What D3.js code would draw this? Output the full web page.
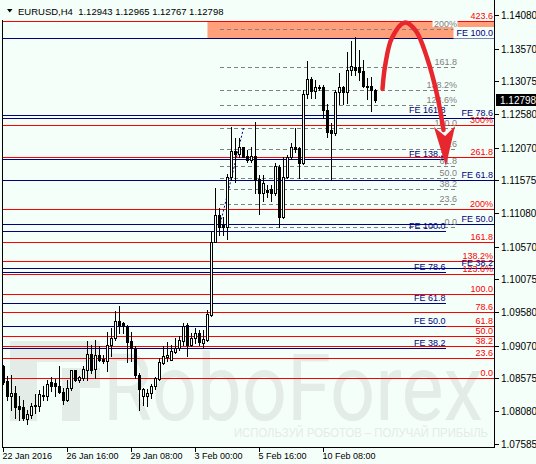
<!DOCTYPE html>
<html>
<head>
<meta charset="utf-8">
<script src="https://cdn.jsdelivr.net/npm/d3@7"></script>
<style>
  body { margin: 0; background: #f5fffa; }
  svg { display: block; font-family: "Liberation Sans", Arial, sans-serif; }
</style>
</head>
<body>
<svg id="svg-chart" width="536" height="464"></svg>
<script>
const BG = "#f5fffa";
const RED = "#ff0000";
const NAVY = "#000080";
const GREY = "#808080";
const SALMON = "#ffa07a";
const ARROW = "#e8262e";
const WATERMARK = "#e3ece7";

// EURUSD H4 bars, 22 Jan 2016 -> 12 Feb 2016
const opens = [1.08755, 1.08528, 1.08301, 1.08353, 1.08150, 1.08145, 1.07963, 1.08024, 1.08171, 1.08150,
  1.08312, 1.08301, 1.08513, 1.08504, 1.08463, 1.08368, 1.08251, 1.08428, 1.08695, 1.08554,
  1.08580, 1.08705, 1.08948, 1.08720, 1.08922, 1.08872, 1.08831, 1.09084, 1.09185, 1.09447,
  1.09412, 1.09372, 1.09134, 1.09034, 1.08630, 1.08301, 1.08301, 1.08353, 1.08453, 1.08564,
  1.08807, 1.08892, 1.08857, 1.08973, 1.09034, 1.09134, 1.09387, 1.09084, 1.09185, 1.09261,
  1.09109, 1.09159, 1.09538, 1.10648, 1.11052, 1.10901, 1.10875, 1.11623, 1.12021, 1.11971,
  1.12077, 1.11945, 1.11885, 1.11945, 1.11593, 1.11381, 1.11431, 1.11441, 1.11381, 1.11783,
  1.11026, 1.11632, 1.11926, 1.12077, 1.12062, 1.11844, 1.12879, 1.13107, 1.12929, 1.12995,
  1.12995, 1.12642, 1.12339, 1.12289, 1.12910, 1.12995, 1.12919, 1.13247, 1.13297, 1.13297,
  1.13232, 1.13010, 1.13005, 1.12943];
const highs = [1.08781, 1.08615, 1.08630, 1.08463, 1.08301, 1.08251, 1.08100, 1.08206, 1.08342, 1.08403,
  1.08453, 1.08554, 1.08599, 1.08569, 1.08755, 1.08433, 1.08554, 1.08705, 1.08705, 1.08615,
  1.08755, 1.09134, 1.09084, 1.09159, 1.09058, 1.08932, 1.09270, 1.09337, 1.09588, 1.09674,
  1.09428, 1.09387, 1.09270, 1.09058, 1.08655, 1.08428, 1.08418, 1.08493, 1.08595, 1.08882,
  1.09069, 1.09119, 1.09084, 1.09185, 1.09210, 1.09412, 1.09412, 1.09261, 1.09337, 1.09311,
  1.09311, 1.09614, 1.10799, 1.11456, 1.11153, 1.11026, 1.11673, 1.12389, 1.12213, 1.12213,
  1.12086, 1.12036, 1.12086, 1.12465, 1.11658, 1.11658, 1.11506, 1.11506, 1.11835, 1.11809,
  1.11935, 1.11960, 1.12138, 1.12365, 1.12086, 1.12945, 1.13384, 1.13146, 1.13096, 1.13020,
  1.13020, 1.12728, 1.12440, 1.12945, 1.13206, 1.13010, 1.13524, 1.13686, 1.13752, 1.13550,
  1.13399, 1.13122, 1.13146, 1.12965];
const lows = [1.08493, 1.08251, 1.08100, 1.07979, 1.07948, 1.07948, 1.07888, 1.07979, 1.08054, 1.08074,
  1.08251, 1.08251, 1.08377, 1.08301, 1.08353, 1.08191, 1.08225, 1.08403, 1.08528, 1.08513,
  1.08554, 1.08554, 1.08655, 1.08580, 1.08831, 1.08807, 1.08680, 1.08907, 1.09159, 1.09266,
  1.09266, 1.08816, 1.08831, 1.08580, 1.08100, 1.08175, 1.08150, 1.08277, 1.08413, 1.08543,
  1.08796, 1.08831, 1.08846, 1.08958, 1.09008, 1.09084, 1.08907, 1.09058, 1.09110, 1.09084,
  1.09034, 1.09134, 1.09523, 1.10648, 1.10749, 1.10749, 1.10684, 1.11582, 1.11556, 1.11935,
  1.11926, 1.11850, 1.11859, 1.11390, 1.11067, 1.11269, 1.11329, 1.11269, 1.11355, 1.10866,
  1.11002, 1.11608, 1.11900, 1.12010, 1.11608, 1.11824, 1.12828, 1.12828, 1.12828, 1.12945,
  1.12516, 1.12238, 1.11582, 1.12263, 1.12728, 1.12728, 1.12743, 1.13172, 1.13172, 1.13096,
  1.12995, 1.12808, 1.12631, 1.12767];
const closes = [1.08513, 1.08301, 1.08353, 1.08135, 1.08115, 1.07979, 1.08029, 1.08160, 1.08150, 1.08337,
  1.08316, 1.08493, 1.08463, 1.08453, 1.08368, 1.08251, 1.08428, 1.08695, 1.08554, 1.08595,
  1.08720, 1.08943, 1.08695, 1.08932, 1.08857, 1.08831, 1.09084, 1.09185, 1.09437, 1.09387,
  1.09372, 1.09119, 1.09034, 1.08630, 1.08413, 1.08413, 1.08353, 1.08463, 1.08580, 1.08816,
  1.08907, 1.08932, 1.08982, 1.09034, 1.09159, 1.09372, 1.09084, 1.09185, 1.09261, 1.09119,
  1.09170, 1.09553, 1.10648, 1.11052, 1.10866, 1.10866, 1.11623, 1.12021, 1.11971, 1.12077,
  1.11935, 1.11885, 1.11945, 1.11582, 1.11381, 1.11532, 1.11405, 1.11381, 1.11794, 1.11026,
  1.11632, 1.11935, 1.12077, 1.12051, 1.11844, 1.12884, 1.13107, 1.12929, 1.12995, 1.12970,
  1.12642, 1.12313, 1.12289, 1.12910, 1.12995, 1.12919, 1.13247, 1.13308, 1.13247, 1.13222,
  1.13010, 1.12995, 1.12939, 1.12798];

const dateTickBars = [0, 16, 32, 48, 64, 80];
const dateLabels = ["22 Jan 2016", "26 Jan 16:00", "29 Jan 08:00", "3 Feb 00:00", "5 Feb 16:00", "10 Feb 08:00"];
const priceTicks = [1.14080, 1.13570, 1.13075, 1.12580, 1.12070, 1.11575, 1.11080,
  1.10570, 1.10075, 1.09580, 1.09070, 1.08575, 1.08080, 1.07585];

// fibonacci tools: [price at 0, price at 100]
const redFibAnchor = [1.08580, 1.09858];
const redFibLevels = [0, 23.6, 38.2, 50, 61.8, 78.6, 100, 123.6, 138.2, 161.8, 200, 261.8, 300, 423.6];
const redFibLabels = ["0.0", "23.6", "38.2", "50.0", "61.8", "78.6", "100.0", "123.6%", "138.2%", "161.8", "200%", "261.8", "300%", "423.6"];

const feLongAnchor = [1.08089, 1.13732];
const feLongLevels = [38.2, 50, 61.8, 78.6, 100];

const feShortAnchor = [1.07948, 1.10802];
const feShortLevels = [38.2, 50, 61.8, 78.6, 100, 138.2, 161.8];

const greyFibAnchor = [1.10866, 1.12365];
const greyFibBars = [54, 60, 113.4]; // start, diagonal end, right end
const greyFibLevels = [0, 23.6, 38.2, 50, 61.8, 78.6, 100, 123.6, 138.2, 161.8, 200];
const greyFibLabels = ["0.0", "23.6", "38.2", "50.0", "61.8", "78.6", "100.0", "123.6%", "138.2%", "161.8", "200%"];

// target zone: from bar, top price, bottom price
const zone = [51, 1.13990, 1.13732];

// forecast arrow in [bar, price]
const arrowCurve = [[94.75, 1.12960], [95.4, 1.13308], [97.1, 1.13732], [100.4, 1.13966],
  [103.1, 1.13838], [105.9, 1.13429], [108.4, 1.12869], [110, 1.12339]];
const arrowHead = [[107.6, 1.12384], [110.6, 1.11794], [112.9, 1.12399], [110.4, 1.12248]];

var svg = d3.select("#svg-chart"),
  frame = { left: 3, right: 494, top: 20, bottom: 447 };

var x = d3.scaleLinear().domain([0, 93]).range([3.5, 375.5]);
var y = d3.scaleLinear().domain([1.07585, 1.14080]).range([443.7, 15]);

function py(p) {
  return Math.round(y(p)) + 0.5;
}
function fibPrice(anchor, lvl) {
  return anchor[0] + (anchor[1] - anchor[0]) * lvl / 100;
}

svg.append("rect").attr("width", 536).attr("height", 464).attr("fill", BG);

// watermark
var wm = svg.append("g").attr("fill", WATERMARK);
wm.append("path").attr("d", "M10,341H100V362H37V421H10Z");
wm.append("path").attr("d", "M62,368H100V388H80V421H62Z");
wm.append("text")
  .attr("x", 103).attr("y", 420)
  .attr("font-family", "Roboto, sans-serif")
  .attr("font-size", 92)
  .attr("textLength", 380)
  .attr("lengthAdjust", "spacingAndGlyphs")
  .text("RoboForex");
wm.append("text")
  .attr("x", 234).attr("y", 437)
  .attr("font-size", 12)
  .attr("textLength", 254)
  .attr("lengthAdjust", "spacingAndGlyphs")
  .text("ИСПОЛЬЗУЙ РОБОТОВ – ПОЛУЧАЙ ПРИБЫЛЬ");

svg.append("clipPath").attr("id", "plot-clip")
  .append("rect")
  .attr("x", frame.left).attr("y", 0)
  .attr("width", frame.right - frame.left).attr("height", frame.bottom);

var g = svg.append("g").attr("clip-path", "url(#plot-clip)");

// salmon target zone
g.append("rect")
  .attr("x", x(zone[0]))
  .attr("y", py(zone[1]))
  .attr("width", frame.right - x(zone[0]))
  .attr("height", py(zone[2]) - py(zone[1]))
  .attr("fill", SALMON);

var lines = g.append("g").attr("shape-rendering", "crispEdges");

// red retracement, full width
lines.selectAll(".red")
  .data(redFibLevels)
  .enter()
  .append("line")
  .attr("x1", frame.left).attr("x2", frame.right)
  .attr("y1", d => py(fibPrice(redFibAnchor, d)))
  .attr("y2", d => py(fibPrice(redFibAnchor, d)))
  .attr("stroke", RED);

// expansion, full width
lines.selectAll(".fe-long")
  .data(feLongLevels)
  .enter()
  .append("line")
  .attr("x1", frame.left).attr("x2", frame.right)
  .attr("y1", d => py(fibPrice(feLongAnchor, d)))
  .attr("y2", d => py(fibPrice(feLongAnchor, d)))
  .attr("stroke", NAVY);

// expansion, shorter
var feShortEnd = 445.5;
lines.selectAll(".fe-short")
  .data(feShortLevels)
  .enter()
  .append("line")
  .attr("x1", frame.left).attr("x2", feShortEnd)
  .attr("y1", d => py(fibPrice(feShortAnchor, d)))
  .attr("y2", d => py(fibPrice(feShortAnchor, d)))
  .attr("stroke", NAVY);

// grey dashed retracement
var greyEnd = x(greyFibBars[2]);
lines.selectAll(".grey")
  .data(greyFibLevels)
  .enter()
  .append("line")
  .attr("x1", x(greyFibBars[0])).attr("x2", greyEnd)
  .attr("y1", d => py(fibPrice(greyFibAnchor, d)))
  .attr("y2", d => py(fibPrice(greyFibAnchor, d)))
  .attr("stroke", GREY)
  .style("stroke-dasharray", "4, 3");

g.append("line")
  .attr("x1", x(greyFibBars[0])).attr("y1", y(greyFibAnchor[0]))
  .attr("x2", x(greyFibBars[1])).attr("y2", y(greyFibAnchor[1]))
  .attr("stroke", NAVY)
  .style("stroke-dasharray", "2, 2");

// candles
var bars = opens.map(function(o, i) {
  return { i: i, o: o, h: highs[i], l: lows[i], c: closes[i] };
});
var candles = g.append("g").attr("shape-rendering", "crispEdges");
candles.selectAll(".wick")
  .data(bars)
  .enter()
  .append("line")
  .attr("x1", d => x(d.i)).attr("x2", d => x(d.i))
  .attr("y1", d => Math.round(y(d.h)))
  .attr("y2", d => Math.round(y(d.l)) + 1)
  .attr("stroke", "#000");
candles.selectAll(".body")
  .data(bars)
  .enter()
  .append("path")
  .attr("d", function(d) {
    var cx = x(d.i), t = py(Math.max(d.o, d.c)), b = py(Math.min(d.o, d.c));
    return "M" + (cx - 1) + "," + t + "H" + (cx + 1) + "V" + b + "H" + (cx - 1) + "Z";
  })
  .attr("fill", d => (d.c >= d.o ? BG : "#000"))
  .attr("stroke", "#000");

// level labels
var labels = g.append("g").attr("font-size", 9).attr("text-anchor", "end");

function levelLabels(levels, anchor, texts, xEnd, color) {
  labels.append("g")
    .selectAll("text")
    .data(levels)
    .enter()
    .append("text")
    .attr("x", xEnd)
    .attr("y", d => py(fibPrice(anchor, d)) - 2.5)
    .attr("fill", color)
    .text((d, i) => texts[i]);
}

// small background patches behind two labels at the zone
labels.append("rect").attr("x", 432.5).attr("y", py(zone[1]) - 2).attr("width", 25).attr("height", 7.5).attr("fill", BG);
labels.append("rect").attr("x", 453.5).attr("y", py(zone[1]) + 5.5).attr("width", 41).attr("height", py(zone[2]) - py(zone[1]) - 5.5).attr("fill", BG);

levelLabels(greyFibLevels, greyFibAnchor, greyFibLabels, greyEnd, GREY);
levelLabels(feShortLevels, feShortAnchor, feShortLevels.map(d => "FE " + d.toFixed(1)), feShortEnd, NAVY);
levelLabels(feLongLevels, feLongAnchor, feLongLevels.map(d => "FE " + d.toFixed(1)), 493, NAVY);
levelLabels(redFibLevels, redFibAnchor, redFibLabels, 493, RED);

// forecast arrow
var line = d3.line()
  .x(d => x(d[0]))
  .y(d => y(d[1]))
  .curve(d3.curveCatmullRom);
svg.append("path")
  .attr("d", line(arrowCurve))
  .attr("fill", "none")
  .attr("stroke", ARROW)
  .attr("stroke-width", 4.5)
  .attr("stroke-linecap", "round");
svg.append("path")
  .attr("d", d3.line().x(d => x(d[0])).y(d => y(d[1]))(arrowHead) + "Z")
  .attr("fill", ARROW);

// frame
var border = svg.append("g").attr("stroke", "#000").attr("shape-rendering", "crispEdges");
border.append("line").attr("x1", 2.5).attr("x2", 2.5).attr("y1", frame.top).attr("y2", 448);
border.append("line").attr("x1", 494.5).attr("x2", 494.5).attr("y1", 0).attr("y2", 448);
border.append("line").attr("x1", 2).attr("x2", 495).attr("y1", 447.5).attr("y2", 447.5);

// axes
var yAxis = svg.append("g")
  .attr("transform", "translate(495,0)")
  .call(d3.axisRight(y).tickValues(priceTicks).tickSize(4).tickPadding(2).tickFormat(d3.format(".5f")).offset(0));
yAxis.select(".domain").remove();
yAxis.selectAll(".tick").attr("transform", d => "translate(0," + (Math.round(y(d)) + 0.5) + ")");
yAxis.selectAll(".tick line").attr("shape-rendering", "crispEdges");
yAxis.selectAll("text").attr("font-size", 10).attr("font-family", "Liberation Sans, Arial, sans-serif").attr("fill", "#000");

var xAxis = svg.append("g")
  .attr("transform", "translate(0,447)")
  .call(d3.axisBottom(x).tickValues(dateTickBars).tickSize(5).tickPadding(1).offset(0)
    .tickFormat((d, i) => dateLabels[i]));
xAxis.select(".domain").remove();
xAxis.selectAll("text")
  .attr("text-anchor", "start")
  .attr("x", -1)
  .attr("font-size", 9)
  .attr("font-family", "Liberation Sans, Arial, sans-serif")
  .attr("fill", "#000");

// current price box
var last = closes.length - 1;
svg.append("rect")
  .attr("x", 496).attr("y", Math.round(y(closes[last])) - 6)
  .attr("width", 40).attr("height", 12)
  .attr("fill", "#000");
svg.append("text")
  .attr("x", 500).attr("y", Math.round(y(closes[last])) + 3.5)
  .attr("font-size", 10)
  .attr("fill", "#fff")
  .text(closes[last].toFixed(5));

// header
svg.append("path").attr("d", "M7,9H12.5L9.75,12.5Z").attr("fill", "#000");
svg.append("text")
  .attr("x", 18).attr("y", 14.5)
  .attr("font-size", 9.5)
  .attr("fill", "#000")
  .attr("xml:space", "preserve")
  .text("EURUSD,H4  " + [opens[last], highs[last], lows[last], closes[last]].map(d => d.toFixed(5)).join(" "));
</script>
</body>
</html>
